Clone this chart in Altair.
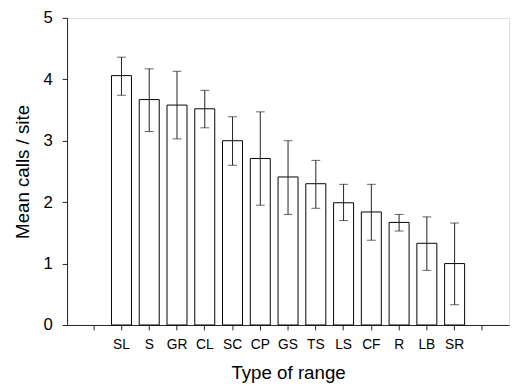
import altair as alt
import pandas as pd

categories = ["SL", "S", "GR", "CL", "SC", "CP", "GS", "TS", "LS", "CF", "R", "LB", "SR"]
means = [4.06, 3.67, 3.58, 3.52, 3.00, 2.71, 2.41, 2.30, 1.99, 1.84, 1.67, 1.33, 1.00]
err_low = [3.74, 3.15, 3.03, 3.21, 2.60, 1.95, 1.80, 1.90, 1.70, 1.38, 1.53, 0.89, 0.33]
err_high = [4.36, 4.17, 4.13, 3.82, 3.39, 3.47, 3.00, 2.68, 2.29, 2.29, 1.80, 1.76, 1.66]

x_domain = [""] + categories + [" "]

df = pd.DataFrame({"cat": categories, "mean": means, "lo": err_low, "hi": err_high})

FONT = "Liberation Sans"

x_enc = alt.X(
    "cat:N",
    sort=x_domain,
    scale=alt.Scale(domain=x_domain, paddingInner=0.28, paddingOuter=0.6),
    axis=alt.Axis(
        title="Type of range",
        labelAngle=0,
        labelFontSize=14,
        labelFont=FONT,
        labelColor="black",
        labelPadding=8,
        tickSize=5,
        tickColor="#222",
        domainColor="#222",
        titleFontSize=19,
        titleFont=FONT,
        titleFontWeight="normal",
        titleColor="black",
        titlePadding=12,
        bandPosition=0.5,
    ),
)

y_scale = alt.Scale(domain=[0, 5], nice=False, zero=True)

bars = alt.Chart(df).mark_bar(
    fill="white", stroke="black", strokeWidth=1
).encode(
    x=x_enc,
    y=alt.Y(
        "mean:Q",
        scale=y_scale,
        axis=alt.Axis(
            title="Mean calls / site",
            values=[0, 1, 2, 3, 4, 5],
            format="d",
            grid=False,
            labelFontSize=17,
            labelFont=FONT,
            labelColor="black",
            labelPadding=10,
            tickSize=5,
            tickColor="#222",
            domainColor="#222",
            titleFontSize=19,
            titleFont=FONT,
            titleFontWeight="normal",
            titleColor="black",
            titlePadding=11,
        ),
    ),
)

rules = alt.Chart(df).mark_rule(color="#222", strokeWidth=1).encode(
    x=alt.X("cat:N", sort=x_domain),
    y=alt.Y("lo:Q", scale=y_scale),
    y2="hi:Q",
)

caps_hi = alt.Chart(df).mark_tick(color="#222", thickness=1, size=9, orient="horizontal").encode(
    x=alt.X("cat:N", sort=x_domain),
    y=alt.Y("hi:Q", scale=y_scale),
)
caps_lo = alt.Chart(df).mark_tick(color="#222", thickness=1, size=9, orient="horizontal").encode(
    x=alt.X("cat:N", sort=x_domain),
    y=alt.Y("lo:Q", scale=y_scale),
)

chart = alt.layer(bars, rules, caps_hi, caps_lo).properties(
    width=449,
    height=312,
    autosize=alt.AutoSizeParams(type="none"),
    padding={"left": 60, "top": 7, "right": 2, "bottom": 62},
).configure_view(
    stroke="#555", strokeWidth=1
).configure(background="white")

chart.save("out.html", embed_options={"renderer": "svg", "actions": False})
